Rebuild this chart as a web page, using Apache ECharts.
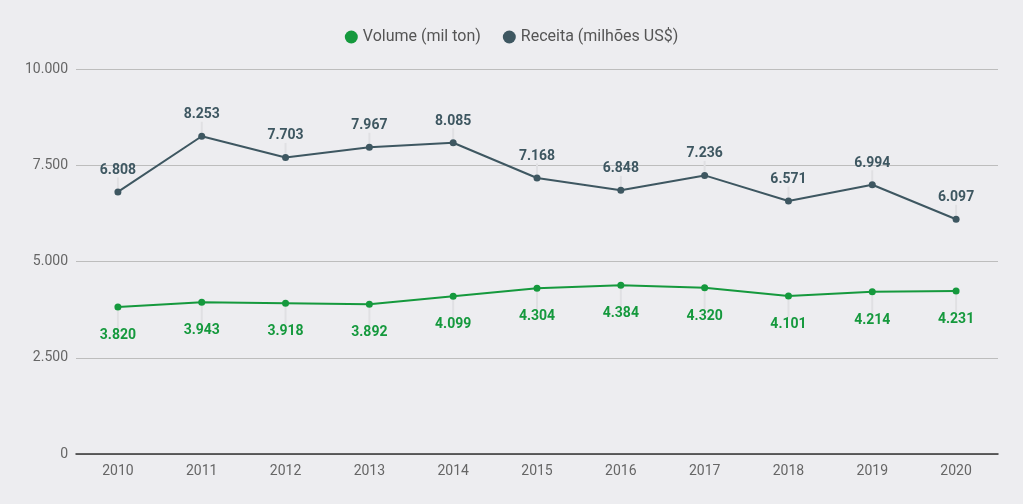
<!DOCTYPE html>
<html>
<head>
<meta charset="utf-8">
<script src="https://cdn.jsdelivr.net/npm/echarts@6/dist/echarts.min.js"></script>
<style>
  html, body { margin: 0; padding: 0; background: #ededf0; }
  #chart { width: 1023px; height: 504px; }
</style>
</head>
<body>
<div id="chart"></div>
<script>
var years = ['2010', '2011', '2012', '2013', '2014', '2015', '2016', '2017', '2018', '2019', '2020']
var volume = [3820, 3943, 3918, 3892, 4099, 4304, 4384, 4320, 4101, 4214, 4231]
var receita = [6808, 8253, 7703, 7967, 8085, 7168, 6848, 7236, 6571, 6994, 6097]

var green = '#15993d'
var slate = '#3e5761'

function fmt (v) {
  return String(v).replace(/\B(?=(\d{3})+(?!\d))/g, '.')
}

var chart = echarts.init(document.getElementById('chart'))
var option = {
  backgroundColor: '#ededf0',
  textStyle: { fontFamily: 'Roboto' },
  legend: {
    top: 24,
    left: 'center',
    icon: 'circle',
    itemWidth: 13,
    itemHeight: 13,
    itemGap: 22,
    textStyle: { fontSize: 16, color: '#555' },
    data: ['Volume (mil ton)', 'Receita (milhões US$)']
  },
  grid: { left: 76, right: 25, top: 69, bottom: 50 },
  xAxis: {
    type: 'category',
    data: years,
    axisTick: { show: false },
    axisLine: { lineStyle: { color: '#333', width: 1.5 } },
    axisLabel: { color: '#666', fontSize: 14, margin: 10 }
  },
  yAxis: {
    type: 'value',
    min: 0,
    max: 10000,
    interval: 2500,
    axisLabel: { color: '#666', fontSize: 14, margin: 8, formatter: fmt },
    splitLine: { lineStyle: { color: '#bdbdbd' } }
  },
  series: [
    {
      name: 'Volume (mil ton)',
      type: 'line',
      data: volume,
      color: green,
      symbol: 'circle',
      symbolSize: 7,
      lineStyle: { width: 2 },
      label: {
        show: true,
        position: 'bottom',
        distance: 4,
        color: green,
        fontWeight: 'bold',
        fontSize: 14,
        formatter: function (p) { return fmt(p.value) }
      },
      labelLayout: { dy: 14 },
      labelLine: { show: true, lineStyle: { color: '#e0e0e3', width: 2 } }
    },
    {
      name: 'Receita (milhões US$)',
      type: 'line',
      data: receita,
      color: slate,
      symbol: 'circle',
      symbolSize: 7,
      lineStyle: { width: 2 },
      label: {
        show: true,
        position: 'top',
        distance: 4,
        color: slate,
        fontWeight: 'bold',
        fontSize: 14,
        formatter: function (p) { return fmt(p.value) }
      },
      labelLayout: { dy: -7 },
      labelLine: { show: true, lineStyle: { color: '#e0e0e3', width: 2 } }
    }
  ]
}
chart.setOption(option)
</script>
</body>
</html>
